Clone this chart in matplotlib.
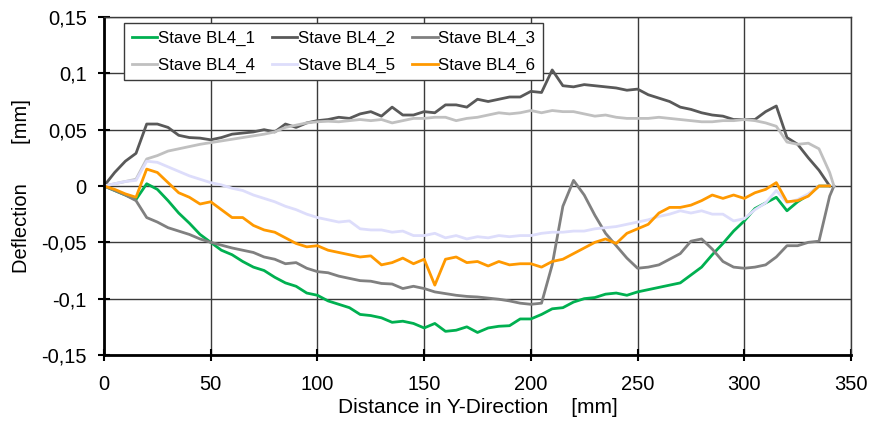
import matplotlib
matplotlib.use("Agg")
import matplotlib.pyplot as plt
from matplotlib.ticker import FuncFormatter

plt.rcParams['font.family'] = ['Liberation Sans', 'DejaVu Sans']

x = [0, 5, 10, 15, 20, 25, 30, 35, 40, 45, 50, 55, 60, 65, 70, 75, 80, 85, 90, 95,
     100, 105, 110, 115, 120, 125, 130, 135, 140, 145, 150, 155, 160, 165, 170, 175,
     180, 185, 190, 195, 200, 205, 210, 215, 220, 225, 230, 235, 240, 245, 250, 255,
     260, 265, 270, 275, 280, 285, 290, 295, 300, 305, 310, 315, 320, 325, 330, 335, 340]
x_ext = x + [342]

bl4_1 = [0, -0.004, -0.008, -0.012, 0.002, -0.003, -0.013, -0.024, -0.033, -0.043,
         -0.050, -0.057, -0.061, -0.067, -0.072, -0.075, -0.081, -0.086, -0.089, -0.095,
         -0.097, -0.102, -0.105, -0.108, -0.114, -0.115, -0.117, -0.121, -0.120, -0.122,
         -0.126, -0.122, -0.129, -0.128, -0.125, -0.130, -0.126, -0.1245, -0.124, -0.118,
         -0.118, -0.114, -0.109, -0.108, -0.103, -0.100, -0.099, -0.096, -0.095, -0.097,
         -0.094, -0.092, -0.090, -0.088, -0.086, -0.079, -0.072, -0.061, -0.051, -0.040,
         -0.031, -0.020, -0.015, -0.010, -0.022, -0.014, -0.008, 0, 0]

bl4_2 = [0, 0.012, 0.022, 0.029, 0.055, 0.055, 0.052, 0.045, 0.043, 0.0425,
         0.041, 0.043, 0.046, 0.047, 0.048, 0.050, 0.048, 0.055, 0.052, 0.056,
         0.058, 0.059, 0.061, 0.060, 0.064, 0.066, 0.062, 0.070, 0.063, 0.063,
         0.066, 0.065, 0.072, 0.072, 0.070, 0.077, 0.075, 0.077, 0.079, 0.079,
         0.084, 0.083, 0.103, 0.089, 0.088, 0.090, 0.089, 0.088, 0.087, 0.085,
         0.086, 0.081, 0.078, 0.075, 0.070, 0.068, 0.065, 0.063, 0.062, 0.059,
         0.059, 0.059, 0.066, 0.071, 0.043, 0.037, 0.025, 0.014, 0]

bl4_3 = [0, -0.004, -0.008, -0.013, -0.028, -0.032, -0.037, -0.040, -0.043, -0.047,
         -0.050, -0.0525, -0.055, -0.057, -0.059, -0.063, -0.065, -0.069, -0.068, -0.073,
         -0.076, -0.077, -0.080, -0.082, -0.084, -0.0845, -0.0865, -0.087, -0.091, -0.089,
         -0.091, -0.094, -0.0955, -0.097, -0.098, -0.0985, -0.0995, -0.1005, -0.102, -0.104,
         -0.105, -0.104, -0.070, -0.018, 0.005, -0.008, -0.026, -0.042, -0.053, -0.064,
         -0.073, -0.072, -0.070, -0.065, -0.060, -0.049, -0.047, -0.056, -0.067, -0.072,
         -0.073, -0.072, -0.070, -0.063, -0.053, -0.053, -0.050, -0.049, -0.009, 0]

bl4_4 = [0, 0.002, 0.004, 0.006, 0.024, 0.027, 0.031, 0.033, 0.035, 0.037,
         0.0385, 0.040, 0.0415, 0.043, 0.0445, 0.046, 0.048, 0.052, 0.054, 0.056,
         0.057, 0.0575, 0.057, 0.058, 0.059, 0.058, 0.059, 0.056, 0.058, 0.060,
         0.060, 0.061, 0.061, 0.058, 0.060, 0.061, 0.063, 0.065, 0.064, 0.065,
         0.067, 0.065, 0.067, 0.066, 0.066, 0.064, 0.062, 0.063, 0.061, 0.060,
         0.060, 0.060, 0.061, 0.060, 0.059, 0.058, 0.057, 0.057, 0.058, 0.058,
         0.059, 0.058, 0.056, 0.053, 0.039, 0.037, 0.038, 0.033, 0.012, 0]

bl4_5 = [0, 0.002, 0.004, 0.005, 0.022, 0.021, 0.017, 0.013, 0.009, 0.006,
         0.003, 0.001, -0.002, -0.004, -0.008, -0.011, -0.014, -0.018, -0.021, -0.025,
         -0.028, -0.030, -0.032, -0.031, -0.038, -0.039, -0.039, -0.041, -0.040, -0.044,
         -0.044, -0.042, -0.046, -0.044, -0.047, -0.045, -0.046, -0.044, -0.045, -0.044,
         -0.044, -0.042, -0.041, -0.041, -0.040, -0.040, -0.038, -0.037, -0.036, -0.034,
         -0.032, -0.030, -0.027, -0.025, -0.022, -0.024, -0.022, -0.025, -0.025, -0.031,
         -0.029, -0.021, -0.015, -0.004, -0.015, -0.012, -0.007, 0, 0]

bl4_6 = [0, -0.003, -0.007, -0.010, 0.015, 0.012, 0.003, -0.006, -0.010, -0.016,
         -0.014, -0.021, -0.028, -0.028, -0.035, -0.039, -0.041, -0.046, -0.051, -0.054,
         -0.053, -0.057, -0.059, -0.061, -0.063, -0.062, -0.070, -0.068, -0.064, -0.069,
         -0.065, -0.088, -0.065, -0.063, -0.068, -0.067, -0.071, -0.067, -0.070, -0.069,
         -0.069, -0.072, -0.067, -0.065, -0.060, -0.055, -0.050, -0.047, -0.051, -0.042,
         -0.038, -0.034, -0.024, -0.019, -0.019, -0.017, -0.013, -0.008, -0.011, -0.008,
         -0.011, -0.006, -0.003, 0.003, -0.014, -0.013, -0.009, 0, 0]

labels = ["Stave BL4_1", "Stave BL4_2", "Stave BL4_3",
          "Stave BL4_4", "Stave BL4_5", "Stave BL4_6"]
colors = ["#00B050", "#595959", "#808080", "#C0C0C0", "#DDDDFB", "#FF9900"]

x_ticks = [0, 50, 100, 150, 200, 250, 300, 350]
y_ticks = [-0.15, -0.1, -0.05, 0, 0.05, 0.1, 0.15]

fig = plt.figure(figsize=(8.71, 4.25), dpi=100)
ax = fig.add_axes([104/871, 1 - 355/425, (851-104)/871, (355-17)/425])

series = [(x, bl4_1), (x, bl4_2), (x_ext, bl4_3), (x_ext, bl4_4), (x, bl4_5), (x, bl4_6)]
lines = []
for (xs, ys), lab, col in zip(series, labels, colors):
    ln, = ax.plot(xs, ys, color=col, lw=2.0, label=lab)
    lines.append(ln)

ax.set_xlim(0, 350)
ax.set_ylim(-0.15, 0.15)
ax.set_xticks(x_ticks)
ax.set_yticks(y_ticks)

def fmt(v, pos):
    s = ('%.2f' % v).rstrip('0').rstrip('.')
    if s in ('-0', ''):
        s = '0'
    return s.replace('.', ',')

ax.yaxis.set_major_formatter(FuncFormatter(fmt))
ax.grid(True, color='#3a3a3a', lw=1.0)
ax.set_axisbelow(True)
for side in ('top', 'right'):
    ax.spines[side].set_color('#3a3a3a')
    ax.spines[side].set_linewidth(1.0)
for side in ('left', 'bottom'):
    ax.spines[side].set_color('black')
    ax.spines[side].set_linewidth(2.0)
ax.tick_params(direction='inout', length=9, width=1.5, labelsize=14.5,
               colors='black')
ax.tick_params(axis='y', pad=8)
ax.tick_params(axis='x', pad=10)

ax.set_xlabel('Distance in Y-Direction    [mm]', fontsize=15, labelpad=3)
ax.set_ylabel('Deflection       [mm]', fontsize=14.5, labelpad=7)

order = [0, 3, 1, 4, 2, 5]
leg = ax.legend([lines[i] for i in order], [labels[i] for i in order],
                ncol=3, loc='upper left', bbox_to_anchor=(20/747, 1 - 6/338),
                fontsize=12.2, frameon=True, fancybox=False, framealpha=1,
                edgecolor='#3a3a3a', handlelength=1.5, handletextpad=0.05,
                columnspacing=1.0, borderpad=0.45, labelspacing=0.7,
                borderaxespad=0)
leg.get_frame().set_linewidth(1.0)

fig.savefig('out.png', dpi=100)
